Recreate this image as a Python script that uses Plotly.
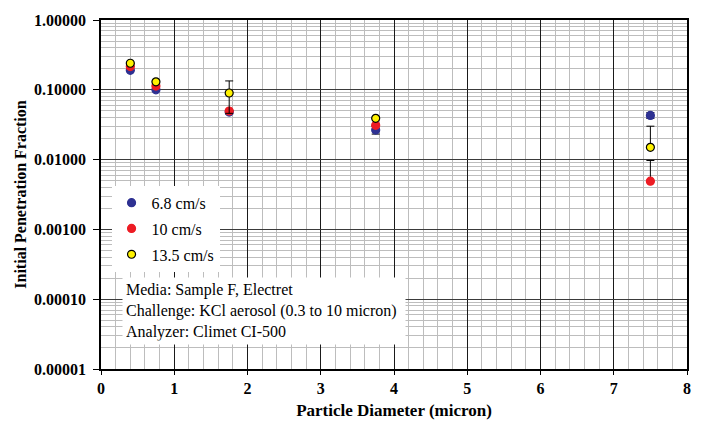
import plotly.graph_objects as go

# Data
diameter = [0.4, 0.75, 1.75, 3.75, 7.5]
pen_68 = [0.19, 0.10, 0.048, 0.0265, 0.043]
pen_10 = [0.215, 0.113, 0.0497, 0.031, 0.0049]
pen_135 = [0.24, 0.13, 0.090, 0.039, 0.0150]

err_68_plus = [0, 0, 0.003, 0.0033, 0.0042]
err_68_minus = [0, 0, 0.003, 0.0033, 0.0042]
err_10_plus = [0, 0, 0, 0, 0.0048]
err_10_minus = [0, 0, 0, 0, 0]
err_135_plus = [0, 0, 0.044, 0, 0.0151]
err_135_minus = [0, 0, 0.044, 0, 0]

series_names = ["6.8 cm/s", "10 cm/s", "13.5 cm/s"]

y_tickvals = [1, 0.1, 0.01, 0.001, 0.0001, 0.00001]
y_ticktext = ["1.00000", "0.10000", "0.01000", "0.00100", "0.00010", "0.00001"]
y_minor = [m * 10 ** e for e in range(-5, 0) for m in range(2, 10)]

FONT = "'Liberation Serif', 'Times New Roman', Times, serif"

fig = go.Figure()

def add_series(name, y, ep, em, fill, outline, group):
    fig.add_trace(go.Scatter(
        x=diameter, y=y, mode="markers", name=name, legendgroup=group,
        marker=dict(size=8, color=fill, line=dict(color=outline, width=1.2)),
        error_y=dict(type="data", symmetric=False, array=ep, arrayminus=em,
                     color="black", thickness=1, width=4),
    ))

add_series(series_names[0], pen_68, err_68_plus, err_68_minus, "#2E3192", "#2E3192", "a")
add_series(series_names[1], pen_10, err_10_plus, err_10_minus, "#ED1C24", "#ED1C24", "b")
add_series(series_names[2], pen_135, err_135_plus, err_135_minus, "#FFF200", "black", "c")

fig.update_layout(
    width=706, height=435,
    margin=dict(l=101, r=19, t=15, b=66),
    paper_bgcolor="white", plot_bgcolor="white",
    font=dict(family=FONT, size=14, color="black"),
    showlegend=True,
    legend=dict(
        x=0.018, y=0.525, xanchor="left", yanchor="top",
        bgcolor="white", borderwidth=0,
        font=dict(family=FONT, size=16, color="black"),
        tracegroupgap=2, traceorder="grouped",
        itemsizing="trace", itemwidth=30,
    ),
    xaxis=dict(
        range=[0, 8], tickmode="linear", tick0=0, dtick=1,
        showgrid=True, gridcolor="#1a1a1a", gridwidth=1,
        minor=dict(dtick=0.2, showgrid=True, gridcolor="#BDBDBD", gridwidth=1, ticks=""),
        ticks="outside", ticklen=4, tickcolor="black",
        showline=True, linecolor="black", linewidth=1.5, mirror=True,
        zeroline=False,
        tickfont=dict(family=FONT, size=16, color="black", weight="bold"),
        title=dict(text="<b>Particle Diameter (micron)</b>",
                   font=dict(family=FONT, size=17, color="black"), standoff=8),
    ),
    yaxis=dict(
        type="log", range=[-5, 0],
        tickmode="array", tickvals=y_tickvals, ticktext=y_ticktext,
        showgrid=True, gridcolor="#3a3a3a", gridwidth=1,
        minor=dict(tickmode="array", tickvals=y_minor, showgrid=True,
                   gridcolor="#BDBDBD", gridwidth=1, ticks=""),
        ticks="outside", ticklen=6, tickcolor="black",
        showline=True, linecolor="black", linewidth=1.5, mirror=True,
        zeroline=False, ticklabelstandoff=4,
        tickfont=dict(family=FONT, size=16, color="black", weight="bold"),
        title=dict(text="<b>Initial Penetration Fraction</b>",
                   font=dict(family=FONT, size=16, color="black"), standoff=3),
    ),
)

fig.add_annotation(
    xref="paper", yref="paper", x=0.036, y=0.263, xanchor="left", yanchor="top",
    text="Media: Sample F, Electret<br>Challenge: KCl aerosol (0.3 to 10 micron)<br>Analyzer: Climet CI-500",
    align="left", showarrow=False, bgcolor="white", borderpad=3, width=276,
    font=dict(family=FONT, size=16, color="black"),
)

fig.write_html("out.html")
